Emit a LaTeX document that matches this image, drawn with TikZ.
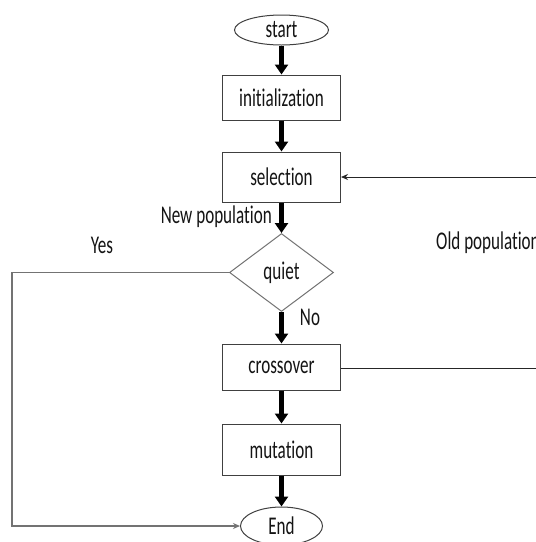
\documentclass[tikz,border=0pt]{standalone}
\usepackage{fontspec}
\setmainfont{Carlito}[FakeStretch=0.67, Ligatures=NoCommon]
\usetikzlibrary{arrows.meta,shapes.geometric}
\begin{document}
\begin{tikzpicture}[x=1pt,y=-1pt,
  every node/.style={font=\fontsize{25.5}{28}\selectfont, text=black!92},
  procbox/.style={draw=black!75, line width=1pt, rectangle, minimum width=118pt, minimum height=46pt, inner sep=0pt},
  terminal/.style={draw=black!75, line width=1pt, ellipse, inner sep=0pt},
  decision/.style={draw=black!55, line width=1pt, diamond, minimum width=104pt, minimum height=78pt, inner sep=0pt},
  flowarrow/.style={line width=4.5pt, -{Triangle[width=13pt,length=10pt]}},
  thinline/.style={line width=1pt, black!85},
  label/.style={inner sep=0pt}]
\useasboundingbox (0,0) rectangle (536,542);
\fill[white] (0,0) rectangle (536,542);

% main column
\node[terminal, minimum width=94pt, minimum height=30pt] (start) at (281.5,30) {start};
\node[procbox, minimum height=45pt] (init) at (281.5,97.5) {initialization};
\node[procbox, minimum height=50pt] (selection) at (281.5,177) {selection};
\node[decision] (quiet) at (281.5,272.5) {quiet};
\node[procbox, minimum height=46pt] (crossover) at (281.5,367) {crossover};
\node[procbox, minimum height=51pt] (mutation) at (281.5,449.5) {mutation};
\node[terminal, minimum width=82pt, minimum height=38pt] (end) at (281.5,526) {End};

% labels
\node[label, anchor=east] (newpop) at (272,217) {New population};
\node[label] (yes) at (102,245) {Yes};
\node[label] (no) at (310,317) {No};
\node[label, anchor=west] (oldpop) at (436,243) {Old population};

% main flow
\draw[flowarrow] (start) -- (init);
\draw[flowarrow] (init) -- (selection);
\draw[flowarrow] (selection) -- (quiet);
\draw[flowarrow] (quiet) -- (crossover);
\draw[flowarrow] (crossover) -- (mutation);
\draw[flowarrow] (mutation) -- (end);

% "Yes" branch back to End
\coordinate (yescorner) at (12,272.5);
\draw[line width=1.2pt, black!55, -{Stealth[length=7pt,width=6pt]}] (quiet.west) -- (yescorner) |- (end.west);

% old population loop
\coordinate (rtop) at (536,177);
\coordinate (rbot) at (536,368);
\draw[thinline, -{Stealth[length=7pt,width=6pt]}] (rtop) -- (selection.east);
\draw[thinline] (crossover.east |- rbot) -- (rbot);
\end{tikzpicture}
\end{document}
